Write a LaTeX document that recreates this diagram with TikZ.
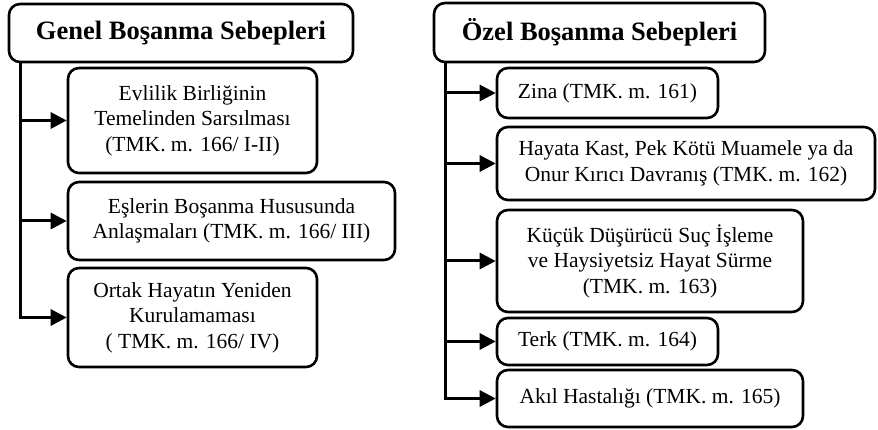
\documentclass[tikz,border=0pt]{standalone}
\usepackage{fontspec}
\setmainfont{Liberation Serif}
\usetikzlibrary{arrows.meta,calc}
\begin{document}
\begin{tikzpicture}[x=1pt,y=-1pt,
  box/.style={draw=black,line width=2.6pt,rounded corners=11pt,inner sep=0pt,align=center,
    font=\fontsize{21.5}{25.5}\selectfont},
  titlebox/.style={box,font=\fontsize{26.5}{30}\selectfont\bfseries},
  arr/.style={line width=3pt,-{Triangle[length=16pt,width=16pt]}}]
\useasboundingbox (0,0) rectangle (878,430);
% left
\node[titlebox,minimum width=344pt,minimum height=58pt] (gt) at (181,33) {Genel Boşanma Sebepleri};
\node[box,minimum width=249pt,minimum height=105pt] (g1) at (192.5,120.5) {Evlilik Birliğinin\\Temelinden Sarsılması\\(TMK. m. 166/ I-II)};
\node[box,minimum width=327pt,minimum height=78pt] (g2) at (231.5,221) {Eşlerin Boşanma Hususunda\\Anlaşmaları (TMK. m. 166/ III)};
\node[box,minimum width=249pt,minimum height=99pt] (g3) at (192.5,317.5) {Ortak Hayatın Yeniden\\Kurulamaması\\( TMK. m. 166/ IV)};
\coordinate (gtr) at ($(gt.south west)+(13,0)$);
\foreach \n in {g1,g2,g3} \draw[arr] (gtr) |- (\n);
% right
\node[titlebox,minimum width=331pt,minimum height=59pt] (ot) at (599.5,32.5) {Özel Boşanma Sebepleri};
\node[box,minimum width=221pt,minimum height=50pt] (o1) at (607.5,93) {Zina (TMK. m. 161)};
\node[box,minimum width=378pt,minimum height=73pt] (o2) at (686,163.5) {Hayata Kast, Pek Kötü Muamele ya da\\Onur Kırıcı Davranış (TMK. m. 162)};
\node[box,minimum width=306pt,minimum height=102pt] (o3) at (650,261) {Küçük Düşürücü Suç İşleme\\ve Haysiyetsiz Hayat Sürme\\(TMK. m. 163)};
\node[box,minimum width=221pt,minimum height=47pt] (o4) at (607.5,341.5) {Terk (TMK. m. 164)};
\node[box,minimum width=306pt,minimum height=57pt] (o5) at (650,398.5) {Akıl Hastalığı (TMK. m. 165)};
\coordinate (otr) at ($(ot.south west)+(13,0)$);
\foreach \n in {o1,o2,o3,o4,o5} \draw[arr] (otr) |- (\n);
\end{tikzpicture}
\end{document}
